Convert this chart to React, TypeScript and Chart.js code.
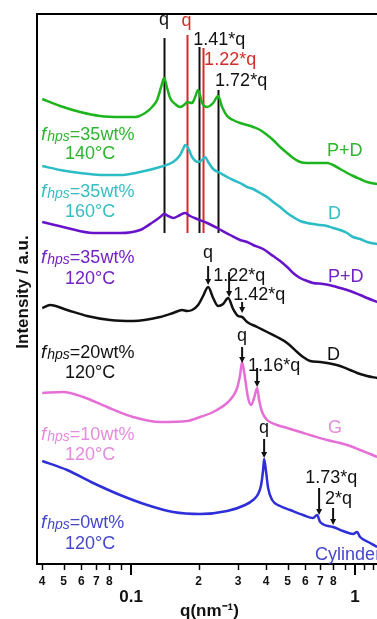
import React, { useEffect, useRef } from "react";
import { Chart, registerables } from "chart.js";

Chart.register(...registerables);

// ---- data (q in nm^-1, intensity in a.u., curves stacked with offsets) ----
const qGreen = [0.0401, 0.0482, 0.0592, 0.0727, 0.0893, 0.1042, 0.1155, 0.1241, 0.1306, 0.1361, 0.1404, 0.1448, 0.1493, 0.1572, 0.1655, 0.1742, 0.1778, 0.1872, 0.1931, 0.1991, 0.2075, 0.2184, 0.2324, 0.2446, 0.2548, 0.2683, 0.2854, 0.3066, 0.3295, 0.3504, 0.3766, 0.4048, 0.4305, 0.4627, 0.4972, 0.5289, 0.5683, 0.6108, 0.6494, 0.6982, 0.7499, 0.7976, 0.857, 0.9212, 0.9797, 1.0527, 1.1315, 1.2539];
const iGreen = [465, 458, 452, 448, 447, 447, 451, 457, 464, 477, 486, 476, 466, 460, 457, 460, 462, 461, 467, 474, 461, 457, 461, 468, 457, 448, 444, 441, 439, 437, 434, 429, 424, 417, 411, 406, 402, 401, 401, 401, 401, 399, 395, 391, 388, 385, 382, 380];

const qCyan = [0.0401, 0.0482, 0.0592, 0.0727, 0.0893, 0.1097, 0.1347, 0.154, 0.1655, 0.1707, 0.1742, 0.1797, 0.1872, 0.1991, 0.2075, 0.214, 0.2207, 0.2324, 0.2497, 0.2683, 0.2854, 0.3066, 0.3295, 0.3504, 0.3766, 0.4048, 0.4305, 0.4627, 0.4972, 0.5289, 0.5683, 0.6108, 0.6494, 0.6982, 0.7499, 0.7976, 0.857, 0.9212, 0.9797, 1.0527, 1.1315, 1.2539];
const iCyan = [398, 394, 391, 389, 389, 392, 397, 402, 409, 415, 419, 416, 407, 402, 404, 407, 402, 395, 391, 387, 384, 381, 377, 375, 371, 367, 362, 357, 351, 347, 343, 341, 340, 339, 338, 336, 334, 331, 327, 325, 322, 320];

const qPurple = [0.0401, 0.0518, 0.0677, 0.0893, 0.1097, 0.1254, 0.1347, 0.1404, 0.1463, 0.154, 0.1655, 0.1742, 0.1834, 0.1971, 0.2184, 0.2421, 0.2767, 0.3066, 0.3295, 0.3504, 0.3884, 0.4305, 0.4627, 0.4972, 0.5289, 0.5683, 0.6108, 0.6494, 0.7196, 0.7976, 0.857, 0.95, 1.0527, 1.1315, 1.2539];
const iPurple = [342, 336, 331, 331, 334, 342, 347, 350, 348, 346, 349, 351, 348, 345, 341, 336, 329, 324, 322, 319, 315, 308, 303, 297, 291, 286, 283, 281, 280, 278, 276, 273, 269, 266, 262];

const qBlack = [0.0401, 0.0435, 0.0518, 0.0636, 0.0806, 0.1021, 0.1347, 0.154, 0.1689, 0.1778, 0.1872, 0.1991, 0.2096, 0.2207, 0.2324, 0.2446, 0.2575, 0.2711, 0.2854, 0.3004, 0.313, 0.3295, 0.3652, 0.4048, 0.4486, 0.4972, 0.5511, 0.5861, 0.6299, 0.6982, 0.7499, 0.857, 0.95, 1.0207, 1.1315, 1.2539];
const iBlack = [256, 259, 254, 248, 244, 243, 247, 251, 254, 253, 254, 259, 268, 277, 266, 258, 260, 266, 255, 248, 247, 242, 237, 232, 227, 221, 212, 207, 203, 202, 201, 198, 194, 191, 188, 186];

const qPink = [0.0401, 0.0497, 0.0611, 0.0781, 0.1021, 0.1347, 0.1778, 0.2032, 0.2324, 0.2683, 0.2854, 0.2973, 0.3066, 0.313, 0.3195, 0.3329, 0.3434, 0.3541, 0.3652, 0.3728, 0.3844, 0.4048, 0.4486, 0.4972, 0.5683, 0.6494, 0.7499, 0.857, 0.95, 1.0527, 1.1668, 1.2539];
const iPink = [171, 172, 167, 157, 147, 142, 143, 147, 152, 161, 168, 176, 189, 202, 192, 166, 159, 166, 176, 164, 152, 144, 139, 136, 132, 128, 124, 121, 118, 114, 110, 107];

const qBlue = [0.0401, 0.0518, 0.0677, 0.0893, 0.1179, 0.154, 0.2032, 0.2683, 0.3228, 0.3504, 0.369, 0.3805, 0.3884, 0.3925, 0.4006, 0.409, 0.4262, 0.4627, 0.5128, 0.5861, 0.6494, 0.6768, 0.6982, 0.7976, 0.8839, 0.9797, 1.0207, 1.0527, 1.1668, 1.2539];
const iBlue = [103, 94, 81, 69, 59, 52, 50, 53, 59, 64, 70, 79, 94, 105, 92, 76, 64, 58, 54, 49, 46, 49, 42, 37, 33, 30, 32, 27, 21, 17];

const sampleNames = ["fhps=35wt% 140°C", "fhps=35wt% 160°C", "fhps=35wt% 120°C", "fhps=20wt% 120°C", "fhps=10wt% 120°C", "fhps=0wt% 120°C"];
const sampleWt = ["=35wt%", "=35wt%", "=35wt%", "=20wt%", "=10wt%", "=0wt%"];
const sampleTemp = ["140°C", "160°C", "120°C", "120°C", "120°C", "120°C"];
const samplePhase = ["P+D", "D", "P+D", "D", "G", "Cylinder"];

// reference peak positions (vertical lines on the top group)
const refLineQ = [0.1404, 0.2012, 0.2446, 0.1778, 0.2102];
const refLineTop = [526, 517, 474, 529, 516];
const refLineBottom = 331;
const refLineLabels = ["q", "1.41*q", "1.72*q", "q", "1.22*q"];

// tick values / labels
const minorTickValues = [0.04, 0.05, 0.06, 0.07, 0.08, 0.09, 0.2, 0.3, 0.4, 0.5, 0.6, 0.7, 0.8, 0.9, 1.1, 1.2, 1.3];
const minorTickLabels = ["4", "5", "6", "7", "8", "", "2", "3", "4", "5", "6", "7", "8", "", "", "", ""];
const majorTickValues = [0.1, 1];
const majorTickLabels = ["0.1", "1"];

const xMin = 0.038;
const xMax = 1.346;

// ---- styles ----
const FONT = "'Liberation Sans', Arial, Helvetica, sans-serif";
const lineColors = ["#1db41d", "#2bbcc6", "#6812c9", "#111111", "#e56fd6", "#2f2fd9"];
const textColors = ["#2fb52f", "#37bcc4", "#7322c4", "#111111", "#e68bdc", "#4646cc"];
const refColors = ["#111111", "#111111", "#111111", "#d42a2a", "#d42a2a"];

const seriesQ = [qGreen, qCyan, qPurple, qBlack, qPink, qBlue];
const seriesI = [iGreen, iCyan, iPurple, iBlack, iPink, iBlue];

// peak annotations: [text, q, intensity, align, seriesIndex]
const peakTexts: [string, number, number, CanvasTextAlign][] = [
  ["q", 0.2207, 306, "center"],
  ["1.22*q", 0.2324, 283, "left"],
  ["1.42*q", 0.2854, 264, "left"],
  ["q", 0.313, 223, "center"],
  ["1.16*q", 0.3329, 193, "left"],
  ["q", 0.3925, 131, "center"],
  ["1.73*q", 0.5983, 81, "left"],
  ["2*q", 0.7347, 60, "left"],
];
// arrows: [q, from, to]
const peakArrows: [number, number, number][] = [
  [0.2207, 298, 279],
  [0.2738, 292, 267],
  [0.313, 262, 251],
  [0.313, 217, 201],
  [0.3652, 196, 177],
  [0.3925, 125, 106],
  [0.6907, 76, 49],
  [0.7976, 56, 39],
];
const refTextPos: [number, number, CanvasTextAlign][] = [
  [0.1404, 539, "center"],
  [0.1892, 519, "left"],
  [0.2371, 478, "left"],
  [0.1769, 538, "center"],
  [0.2118, 499, "left"],
];
const phasePos: [number, number][] = [
  [0.7499, 408], [0.7576, 345], [0.7576, 282], [0.7499, 204], [0.7576, 131], [0.6629, 4],
];
const namePos: [number, number][] = [
  [424, 405], [367, 347], [301, 280], [206, 186], [124, 104], [36, 15],
];

const overlay = {
  id: "overlay",
  beforeDatasetsDraw(chart: any) {
    const { ctx, scales } = chart;
    const x = scales.x, y = scales.y;
    ctx.save();
    ctx.lineWidth = 2;
    refLineQ.forEach((q, i) => {
      const px = Math.round(x.getPixelForValue(q)) + 0.5;
      ctx.strokeStyle = refColors[i];
      ctx.beginPath();
      ctx.moveTo(px, y.getPixelForValue(refLineTop[i]));
      ctx.lineTo(px, y.getPixelForValue(refLineBottom));
      ctx.stroke();
    });
    ctx.restore();
  },
  afterDraw(chart: any) {
    const { ctx, scales, chartArea } = chart;
    const x = scales.x, y = scales.y;
    const { left, top, bottom, right } = chartArea;
    ctx.save();
    // frame
    ctx.strokeStyle = "#000";
    ctx.lineWidth = 2;
    ctx.beginPath();
    ctx.moveTo(right + 5, top);
    ctx.lineTo(left, top);
    ctx.lineTo(left, bottom);
    ctx.lineTo(right + 5, bottom);
    ctx.stroke();
    // ticks
    ctx.lineWidth = 1.5;
    minorTickValues.forEach((v) => {
      const px = Math.round(x.getPixelForValue(v)) + 0.5;
      ctx.beginPath();
      ctx.moveTo(px, bottom);
      ctx.lineTo(px, bottom + 6);
      ctx.stroke();
    });
    ctx.lineWidth = 2;
    majorTickValues.forEach((v) => {
      const px = Math.round(x.getPixelForValue(v));
      ctx.beginPath();
      ctx.moveTo(px, bottom);
      ctx.lineTo(px, bottom + 11);
      ctx.stroke();
    });
    ctx.fillStyle = "#111";
    ctx.textAlign = "center";
    ctx.textBaseline = "alphabetic";
    ctx.font = `bold 12px ${FONT}`;
    minorTickValues.forEach((v, i) => {
      if (minorTickLabels[i]) ctx.fillText(minorTickLabels[i], x.getPixelForValue(v), bottom + 21);
    });
    ctx.font = `bold 17px ${FONT}`;
    majorTickValues.forEach((v, i) => {
      ctx.fillText(majorTickLabels[i], x.getPixelForValue(v), bottom + 38);
    });
    ctx.textAlign = "left";
    ctx.fillText("q(nm\u207B\u00B9)", left + 143, bottom + 52);
    // y title
    ctx.save();
    ctx.translate(left - 9, (top + bottom) / 2 + 3);
    ctx.rotate(-Math.PI / 2);
    ctx.textAlign = "center";
    ctx.font = `bold 17px ${FONT}`;
    ctx.fillText("Intensity / a.u.", 0, 0);
    ctx.restore();

    // reference line labels
    ctx.font = `18px ${FONT}`;
    refLineLabels.forEach((t, i) => {
      ctx.fillStyle = refColors[i];
      ctx.textAlign = refTextPos[i][2];
      ctx.fillText(t, x.getPixelForValue(refTextPos[i][0]), y.getPixelForValue(refTextPos[i][1]));
    });
    // peak annotations
    ctx.fillStyle = "#111";
    peakTexts.forEach(([t, q, iv, al]) => {
      ctx.textAlign = al;
      ctx.fillText(t, x.getPixelForValue(q), y.getPixelForValue(iv));
    });
    ctx.strokeStyle = "#111";
    ctx.lineWidth = 2;
    peakArrows.forEach(([q, a, b]) => {
      const px = x.getPixelForValue(q);
      const y1 = y.getPixelForValue(a), y2 = y.getPixelForValue(b);
      ctx.beginPath();
      ctx.moveTo(px, y1);
      ctx.lineTo(px, y2 - 4);
      ctx.stroke();
      ctx.beginPath();
      ctx.moveTo(px - 3, y2 - 6);
      ctx.lineTo(px + 3, y2 - 6);
      ctx.lineTo(px, y2);
      ctx.closePath();
      ctx.fill();
    });
    // phase labels
    ctx.textAlign = "left";
    samplePhase.forEach((t, i) => {
      ctx.fillStyle = textColors[i];
      ctx.fillText(t, x.getPixelForValue(phasePos[i][0]), y.getPixelForValue(phasePos[i][1]));
    });
    // sample names
    sampleWt.forEach((t, i) => {
      ctx.fillStyle = textColors[i];
      let px = left + 4;
      const py1 = y.getPixelForValue(namePos[i][0]);
      const py2 = y.getPixelForValue(namePos[i][1]);
      ctx.font = `italic 19px ${FONT}`;
      ctx.fillText("f", px, py1);
      px += ctx.measureText("f").width + 1;
      ctx.font = `italic 14px ${FONT}`;
      ctx.fillText("hps", px, py1 + 1);
      px += ctx.measureText("hps").width;
      ctx.font = `18px ${FONT}`;
      ctx.fillText(t, px, py1);
      ctx.fillText(sampleTemp[i], left + 28, py2);
    });
    ctx.restore();
  },
};

export default function App() {
  const ref = useRef<HTMLCanvasElement>(null);
  useEffect(() => {
    if (!ref.current) return;
    const chart = new Chart(ref.current, {
      type: "line",
      data: {
        datasets: seriesQ.map((qs, k) => ({
          label: sampleNames[k],
          data: qs.map((q, i) => ({ x: q, y: seriesI[k][i] })),
          borderColor: lineColors[k],
          borderWidth: 2.5,
          pointRadius: 0,
          fill: false,
          cubicInterpolationMode: "monotone" as const,
        })),
      },
      options: {
        responsive: false,
        devicePixelRatio: 1,
        animation: false,
        layout: { padding: { left: 37, top: 14, right: 0, bottom: 55 } },
        plugins: { legend: { display: false }, tooltip: { enabled: false } },
        scales: {
          x: { type: "logarithmic", min: xMin, max: xMax, display: false },
          y: { type: "linear", min: 0, max: 550, display: false },
        },
      },
      plugins: [overlay],
    });
    return () => chart.destroy();
  }, []);
  return (
    <div style={{ position: "fixed", left: 0, top: 0, width: 377, height: 619, overflow: "hidden", background: "#fff" }}>
      <canvas ref={ref} width={384} height={619} style={{ display: "block", width: 384, height: 619 }} />
    </div>
  );
}
